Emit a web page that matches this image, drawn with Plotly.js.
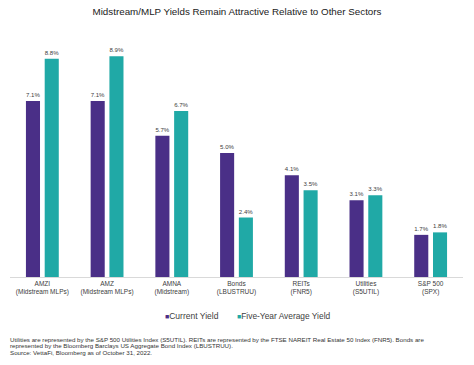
<!DOCTYPE html>
<html>
<head>
<meta charset="utf-8">
<script src="https://cdn.plot.ly/plotly-3.0.1.min.js"></script>
<style>html,body{margin:0;padding:0;background:#fff;}#chart{width:474px;height:365px;}</style>
</head>
<body>
<div id="chart"></div>
<script>
const categories = [
  "AMZI<br>(Midstream MLPs)",
  "AMZ<br>(Midstream MLPs)",
  "AMNA<br>(Midstream)",
  "Bonds<br>(LBUSTRUU)",
  "REITs<br>(FNR5)",
  "Utilities<br>(S5UTIL)",
  "S&P 500<br>(SPX)"
];
const currentYield = [7.1, 7.1, 5.7, 5.0, 4.1, 3.1, 1.7];
const fiveYearAvgYield = [8.8, 8.9, 6.7, 2.4, 3.5, 3.3, 1.8];
const seriesNames = ["Current Yield", "Five-Year Average Yield"];
const footnotes = [
  "Utilities are represented by the S&P 500 Utilities Index (S5UTIL). REITs are represented by the FTSE NAREIT Real Estate 50 Index (FNR5). Bonds are",
  "represented by the Bloomberg Barclays US Aggregate Bond Index (LBUSTRUU).",
  "Source: VettaFi, Bloomberg as of October 31, 2022."
];

const purple = "#4a2f87";
const teal = "#20a9a6";
const font = "Arial, 'Liberation Sans', sans-serif";
const labelFmt = v => v.toFixed(1) + "%";

const traces = [
  {type: "bar", name: seriesNames[0], x: categories, y: currentYield,
   marker: {color: purple}, text: currentYield.map(labelFmt), textposition: "outside",
   textfont: {size: 6.5, color: "#404040", family: font}, cliponaxis: false, hoverinfo: "skip"},
  {type: "bar", name: seriesNames[1], x: categories, y: fiveYearAvgYield,
   marker: {color: teal}, text: fiveYearAvgYield.map(labelFmt), textposition: "outside",
   textfont: {size: 6.5, color: "#404040", family: font}, cliponaxis: false, hoverinfo: "skip"}
];

const annotations = footnotes.map((t, i) => ({
  text: t, xref: "paper", yref: "paper", x: -0.003, y: (277 - (339 + i * 6.6)) / 237,
  xanchor: "left", yanchor: "middle", showarrow: false, borderpad: 0,
  font: {size: 6.2, color: "#333", family: font}
}));
annotations.push({
  text: '<span style="color:' + purple + ';font-size:7px">■</span>' + seriesNames[0],
  xref: "paper", yref: "paper", x: (164 - 10) / 453.4, y: (277 - 315.5) / 237,
  xanchor: "left", yanchor: "middle", showarrow: false, borderpad: 0,
  font: {size: 8.5, color: "#404040", family: font}
});
annotations.push({
  text: '<span style="color:' + teal + ';font-size:7px">■</span>' + seriesNames[1],
  xref: "paper", yref: "paper", x: (236 - 10) / 453.4, y: (277 - 315.5) / 237,
  xanchor: "left", yanchor: "middle", showarrow: false, borderpad: 0,
  font: {size: 8.4, color: "#404040", family: font}
});

const layout = {
  width: 474, height: 365,
  margin: {l: 10, r: 11, t: 40, b: 88},
  paper_bgcolor: "#fff", plot_bgcolor: "#fff",
  font: {family: font, color: "#404040"},
  title: {text: "Midstream/MLP Yields Remain Attractive Relative to Other Sectors",
          font: {size: 9.8, color: "#222", family: font},
          x: 0.5, xref: "container", xanchor: "center", y: 1 - 11.5 / 365, yref: "container", yanchor: "middle"},
  barmode: "group", bargap: 0.42, bargroupgap: 0.25,
  showlegend: false,
  xaxis: {showline: true, linecolor: "#d9d9d9", linewidth: 1, ticks: "", showgrid: false,
          tickfont: {size: 6.5, color: "#404040", family: font}, fixedrange: true},
  yaxis: {range: [0, 9.56], visible: false, showgrid: false, zeroline: false, fixedrange: true},
  annotations: annotations
};

Plotly.newPlot("chart", traces, layout, {displayModeBar: false, staticPlot: true});
</script>
</body>
</html>
